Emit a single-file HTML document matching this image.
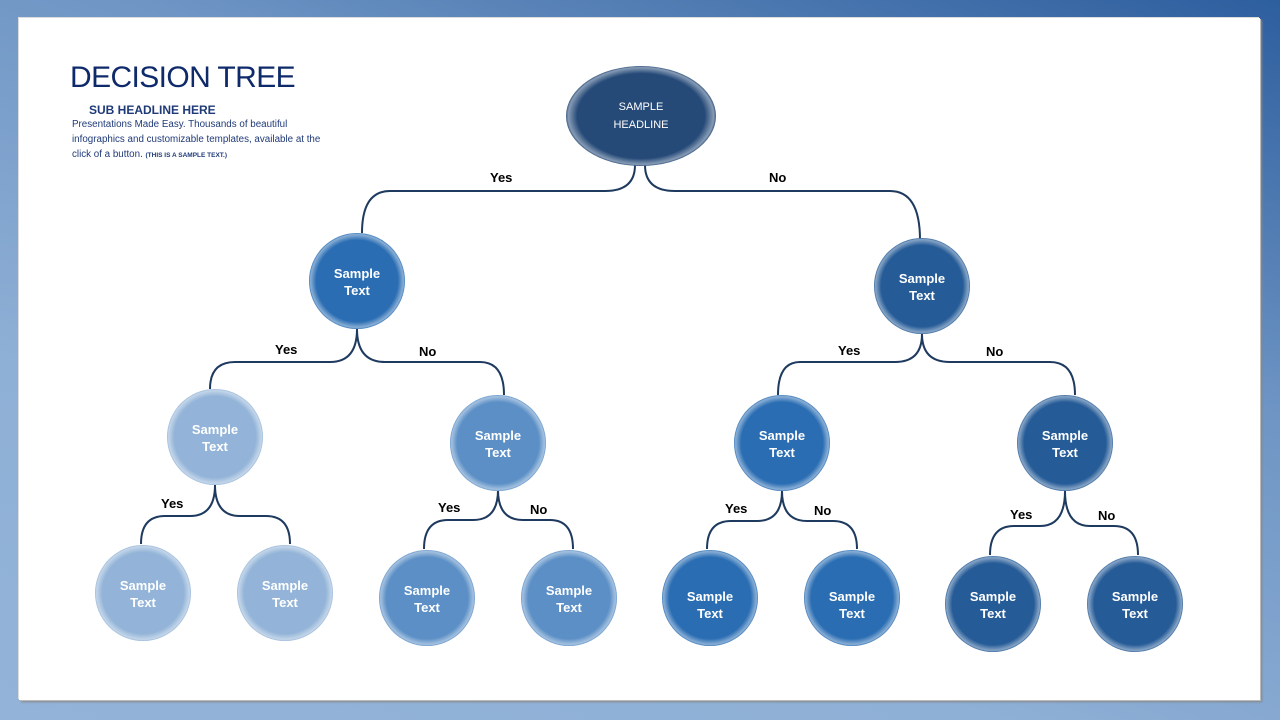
<!DOCTYPE html>
<html><head><meta charset="utf-8"><style>
html,body{margin:0;padding:0}
body{width:1280px;height:720px;overflow:hidden;background:linear-gradient(200deg,#2d5e9e 0%,#6e95c4 35%,#8fb0d6 70%,#93b3d8 100%);position:relative;font-family:"Liberation Sans",sans-serif}
.panel{position:absolute;left:19px;top:18px;width:1241px;height:682px;background:#fff;box-shadow:1px 1px 0 #bbb, 2px 2px 2px #888, -1px -1px 0 #ddd}
.t{position:absolute;color:#0e2a6b}
</style></head><body>
<div class="panel"></div>
<div class="t" style="left:70px;top:61px;font-size:30px;letter-spacing:-0.6px">DECISION TREE</div>
<div class="t" style="left:89px;top:103px;font-size:12px;font-weight:bold;color:#1f3a78">SUB HEADLINE HERE</div>
<div class="t" style="left:72px;top:117px;font-size:9.8px;line-height:15px;color:#1f3a78;width:262px">Presentations Made Easy. Thousands of beautiful infographics and customizable templates, available at the click of a button. <span style="font-size:6.5px;font-weight:bold">(THIS IS A SAMPLE TEXT.)</span></div>
<svg width="1280" height="720" style="position:absolute;left:0;top:0" font-family="Liberation Sans, sans-serif">
<defs>
<radialGradient id="sh" cx="0.5" cy="0.5" r="0.5">
<stop offset="0.85" stop-color="#fff" stop-opacity="0"/>
<stop offset="0.97" stop-color="#fff" stop-opacity="0.45"/>
<stop offset="1" stop-color="#fff" stop-opacity="0.1"/>
</radialGradient>
</defs>
<g fill="none" stroke="#1e3a5f" stroke-width="2">
<path d="M635 165 Q635 191 605 191 L390 191 Q362 191 362 233"/>
<path d="M645 165 Q645 191 675 191 L890 191 Q920 191 920 240"/>
<path d="M357 329 Q357 362 330 362 L235 362 Q210 362 210 389"/>
<path d="M357 329 Q357 362 385 362 L480 362 Q504 362 504 395"/>
<path d="M922 334 Q922 362 895 362 L800 362 Q778 362 778 395"/>
<path d="M922 334 Q922 362 950 362 L1050 362 Q1075 362 1075 395"/>
<path d="M215 485 Q215 516 190 516 L165 516 Q141 516 141 544"/>
<path d="M215 485 Q215 516 240 516 L266 516 Q290 516 290 544"/>
<path d="M498 490 Q498 520 473 520 L448 520 Q424 520 424 549"/>
<path d="M498 490 Q498 520 523 520 L550 520 Q573 520 573 549"/>
<path d="M782 491 Q782 521 757 521 L731 521 Q707 521 707 549"/>
<path d="M782 491 Q782 521 807 521 L833 521 Q857 521 857 549"/>
<path d="M1065 491 Q1065 526 1040 526 L1014 526 Q990 526 990 555"/>
<path d="M1065 491 Q1065 526 1090 526 L1114 526 Q1138 526 1138 555"/>
</g>
<g font-size="13" font-weight="bold" fill="#000">
<text x="490" y="182">Yes</text><text x="769" y="182">No</text>
<text x="275" y="354">Yes</text><text x="419" y="356">No</text>
<text x="838" y="355">Yes</text><text x="986" y="356">No</text>
<text x="161" y="508">Yes</text><text x="438" y="512">Yes</text><text x="530" y="514">No</text>
<text x="725" y="513">Yes</text><text x="814" y="515">No</text>
<text x="1010" y="519">Yes</text><text x="1098" y="520">No</text>
</g>
<ellipse cx="641" cy="116" rx="75" ry="50" fill="#254a78"/>
<ellipse cx="641" cy="116" rx="75" ry="50" fill="url(#sh)"/>
<text x="641" y="110" text-anchor="middle" font-size="11" fill="#fff">SAMPLE</text>
<text x="641" y="128" text-anchor="middle" font-size="11" fill="#fff">HEADLINE</text>
<g font-size="13" font-weight="bold" fill="#fff" text-anchor="middle">
<g transform="translate(357,281)"><circle r="48" fill="#2a6db3"/><circle r="48" fill="url(#sh)"/><text y="-3">Sample</text><text y="14">Text</text></g>
<g transform="translate(922,286)"><circle r="48" fill="#255b97"/><circle r="48" fill="url(#sh)"/><text y="-3">Sample</text><text y="14">Text</text></g>
<g transform="translate(215,437)"><circle r="48" fill="#93b4d8"/><circle r="48" fill="url(#sh)"/><text y="-3">Sample</text><text y="14">Text</text></g>
<g transform="translate(498,443)"><circle r="48" fill="#5b8fc6"/><circle r="48" fill="url(#sh)"/><text y="-3">Sample</text><text y="14">Text</text></g>
<g transform="translate(782,443)"><circle r="48" fill="#2a6db3"/><circle r="48" fill="url(#sh)"/><text y="-3">Sample</text><text y="14">Text</text></g>
<g transform="translate(1065,443)"><circle r="48" fill="#255b97"/><circle r="48" fill="url(#sh)"/><text y="-3">Sample</text><text y="14">Text</text></g>
<g transform="translate(143,593)"><circle r="48" fill="#93b4d8"/><circle r="48" fill="url(#sh)"/><text y="-3">Sample</text><text y="14">Text</text></g>
<g transform="translate(285,593)"><circle r="48" fill="#93b4d8"/><circle r="48" fill="url(#sh)"/><text y="-3">Sample</text><text y="14">Text</text></g>
<g transform="translate(427,598)"><circle r="48" fill="#5b8fc6"/><circle r="48" fill="url(#sh)"/><text y="-3">Sample</text><text y="14">Text</text></g>
<g transform="translate(569,598)"><circle r="48" fill="#5b8fc6"/><circle r="48" fill="url(#sh)"/><text y="-3">Sample</text><text y="14">Text</text></g>
<g transform="translate(710,598)"><circle r="48" fill="#2a6db3"/><circle r="48" fill="url(#sh)"/><text y="3">Sample</text><text y="20">Text</text></g>
<g transform="translate(852,598)"><circle r="48" fill="#2a6db3"/><circle r="48" fill="url(#sh)"/><text y="3">Sample</text><text y="20">Text</text></g>
<g transform="translate(993,604)"><circle r="48" fill="#255b97"/><circle r="48" fill="url(#sh)"/><text y="-3">Sample</text><text y="14">Text</text></g>
<g transform="translate(1135,604)"><circle r="48" fill="#255b97"/><circle r="48" fill="url(#sh)"/><text y="-3">Sample</text><text y="14">Text</text></g>
</g>
</svg>
</body></html>
